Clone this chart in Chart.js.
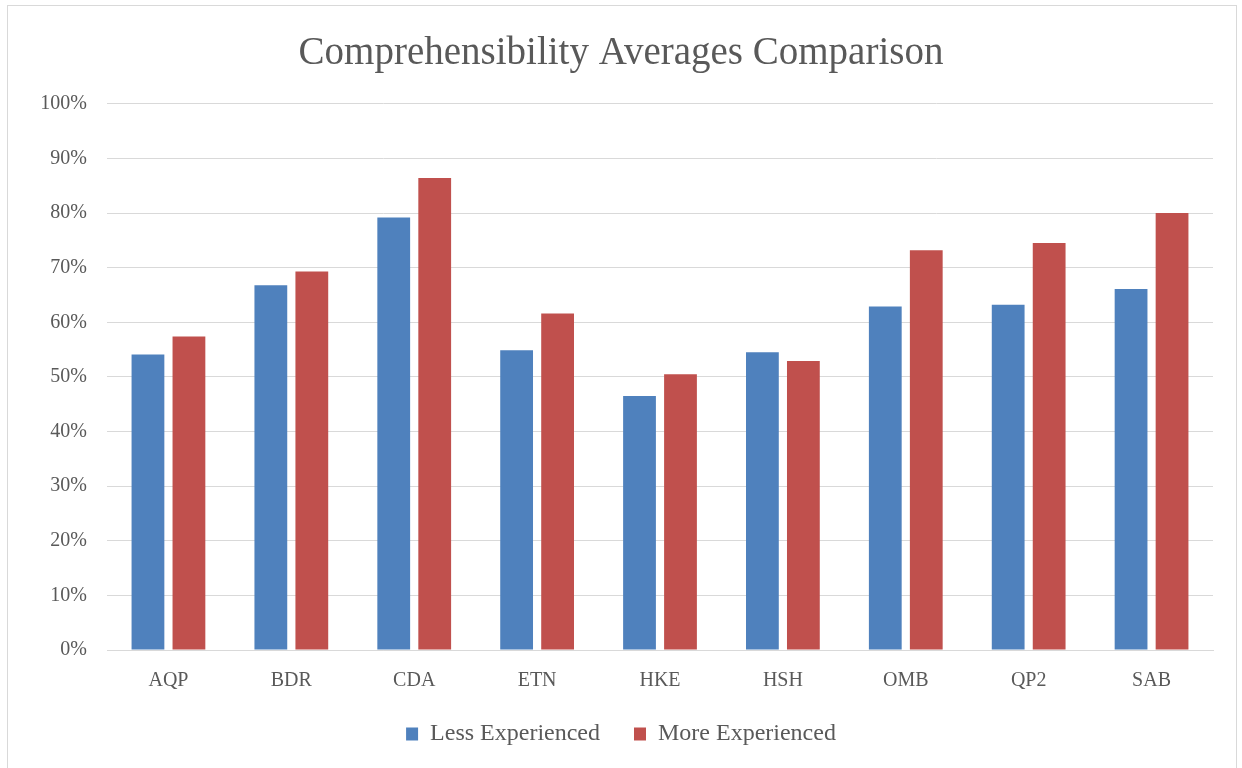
<!DOCTYPE html>
<html>
<head>
<meta charset="utf-8">
<script src="https://cdn.jsdelivr.net/npm/chart.js@4"></script>
<style>
  body { margin: 0; background: #fff; overflow: hidden; }
  canvas { display: block; }
</style>
</head>
<body>
<canvas id="myChart" width="1242" height="768"></canvas>
<script>
let categories = ['AQP', 'BDR', 'CDA', 'ETN', 'HKE', 'HSH', 'OMB', 'QP2', 'SAB'];
let lessExperienced = [0.541, 0.668, 0.792, 0.549, 0.465, 0.545, 0.629, 0.632, 0.661];
let moreExperienced = [0.574, 0.693, 0.864, 0.616, 0.505, 0.529, 0.732, 0.745, 0.800];
let yTicks = [0, 0.1, 0.2, 0.3, 0.4, 0.5, 0.6, 0.7, 0.8, 0.9, 1];

let textColor = '#595959';
let fontFamily = '"Liberation Serif", "DejaVu Serif", serif';

// light frame around the whole chart
let frame = {
    id: 'frame',
    beforeDraw(chart) {
        let ctx = chart.ctx;
        ctx.save();
        ctx.fillStyle = '#fff';
        ctx.fillRect(0, 0, chart.width, chart.height);
        ctx.strokeStyle = '#d9d9d9';
        ctx.lineWidth = 1;
        ctx.strokeRect(7.5, 5.5, 1229, 800);
        ctx.restore();
    }
};

let bar = document.getElementById('myChart').getContext('2d');

let chart1 = new Chart(bar, {
    type: 'bar',
    data: {
        labels: categories,
        datasets: [{
            label: 'Less Experienced',
            data: lessExperienced,
            backgroundColor: '#4F81BD',
            borderWidth: 0,
        }, {
            label: 'More Experienced',
            data: moreExperienced,
            backgroundColor: '#C0504D',
            borderWidth: 0,
        }]
    },
    plugins: [frame],
    options: {
        responsive: false,
        animation: false,
        layout: {
            padding: { left: 0, right: 0, top: 0, bottom: 12 }
        },
        datasets: {
            bar: { categoryPercentage: 0.667, barPercentage: 0.8 }
        },
        scales: {
            x: {
                grid: { display: false, drawTicks: false },
                border: { display: true, color: '#d9d9d9', width: 1 },
                ticks: {
                    color: textColor,
                    font: { family: fontFamily, size: 20 },
                    padding: 19,
                },
            },
            y: {
                min: 0,
                max: 1,
                afterFit(scale) { scale.width = 107; },
                afterBuildTicks(scale) {
                    scale.ticks = yTicks.map(v => ({ value: v }));
                },
                grid: { color: '#d9d9d9', lineWidth: 1, drawTicks: false },
                border: { display: false },
                ticks: {
                    color: textColor,
                    font: { family: fontFamily, size: 20 },
                    padding: 20,
                    callback: v => Math.round(v * 100) + '%',
                },
            },
            // empty right axis, keeps the plot clear of the right edge
            yRight: {
                position: 'right',
                afterFit(scale) { scale.width = 29; },
                grid: { display: false, drawTicks: false },
                border: { display: false },
                ticks: { display: false },
            },
        },
        plugins: {
            title: {
                display: true,
                text: 'Comprehensibility Averages Comparison',
                color: textColor,
                font: { family: fontFamily, size: 39, weight: 'normal' },
                padding: { top: 30, bottom: 27 },
            },
            legend: {
                position: 'bottom',
                labels: {
                    color: textColor,
                    font: { family: fontFamily, size: 24 },
                    boxWidth: 12,
                    boxHeight: 13,
                    padding: 10,
                    generateLabels(chart) {
                        let items = Chart.defaults.plugins.legend.labels.generateLabels(chart);
                        // wider gap after the first entry, like the original
                        items[0].text = items[0].text + '\u2003';
                        return items;
                    },
                },
            },
            tooltip: { enabled: false },
        },
    },
});
</script>
</body>
</html>
